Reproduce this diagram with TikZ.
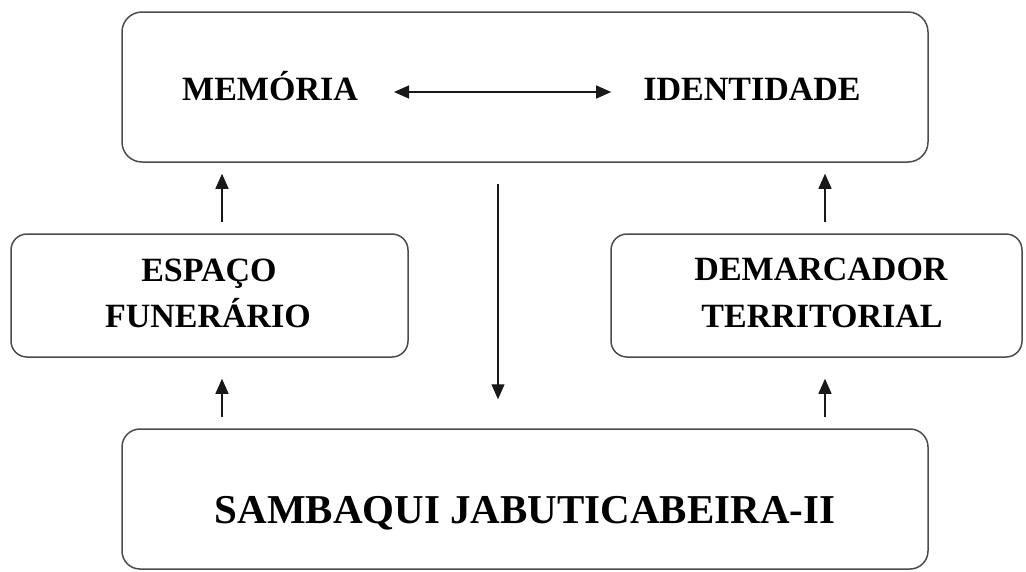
\documentclass[tikz,border=0pt]{standalone}
\usepackage{fontspec}
\setmainfont{Liberation Serif}
\usetikzlibrary{arrows.meta}
\begin{document}
\begin{tikzpicture}[x=1pt,y=-1pt,
  boxstyle/.style={draw=black!70, line width=1.5pt, rounded corners=#1, inner sep=0pt},
  boxstyle/.default=16pt,
  lbl/.style={font=\fontsize{34}{46}\selectfont\bfseries, inner sep=0pt, align=center},
  arr/.style={line width=1.4pt, draw=black!90, -{Triangle[length=15pt,width=13pt]}},
  darr/.style={line width=1.4pt, draw=black!90, {Triangle[length=15pt,width=13pt]}-{Triangle[length=15pt,width=13pt]}}
]
\useasboundingbox (0,0) rectangle (1026,571);
% boxes
\node[boxstyle=20pt, minimum width=806pt, minimum height=150pt] (top) at (525,87) {};
\node[boxstyle, minimum width=397pt, minimum height=123pt] (esp) at (209.5,295.5) {};
\node[boxstyle, minimum width=411pt, minimum height=123pt] (dem) at (816.5,295.5) {};
\node[boxstyle=18pt, minimum width=806pt, minimum height=140pt] (sam) at (525,499) {};
% texts
\node[lbl, anchor=base] (mem) at (270,100) {MEMÓRIA};
\node[lbl, anchor=base] (ide) at (752,100) {IDENTIDADE};
\node[lbl, anchor=base] (espa) at (209,281) {ESPAÇO};
\node[lbl, anchor=base] (fun) at (208,327) {FUNERÁRIO};
\node[lbl, anchor=base] (dema) at (821,280) {DEMARCADOR};
\node[lbl, anchor=base] (terr) at (822,327) {TERRITORIAL};
\node[font=\fontsize{41}{48}\selectfont\bfseries, inner sep=0pt, anchor=base] (samt) at (525,523) {SAMBAQUI JABUTICABEIRA-II};
% helper coordinates
\coordinate (cl) at (222,0);
\coordinate (cr) at (825,0);
\coordinate (cm) at (498,0);
% arrows
\draw[darr, shorten <=36pt, shorten >=32pt] ([yshift=8pt]mem.base east) -- ([yshift=8pt]ide.base west);
\draw[arr, shorten <=11pt, shorten >=11pt] (esp.north -| cl) -- (top.south -| cl);
\draw[arr, shorten <=11pt, shorten >=21pt] (sam.north -| cl) -- (esp.south -| cl);
\draw[arr, shorten <=11pt, shorten >=11pt] (dem.north -| cr) -- (top.south -| cr);
\draw[arr, shorten <=11pt, shorten >=21pt] (sam.north -| cr) -- (dem.south -| cr);
\draw[arr, shorten <=21pt, shorten >=29pt] (top.south -| cm) -- (sam.north -| cm);
\end{tikzpicture}
\end{document}
